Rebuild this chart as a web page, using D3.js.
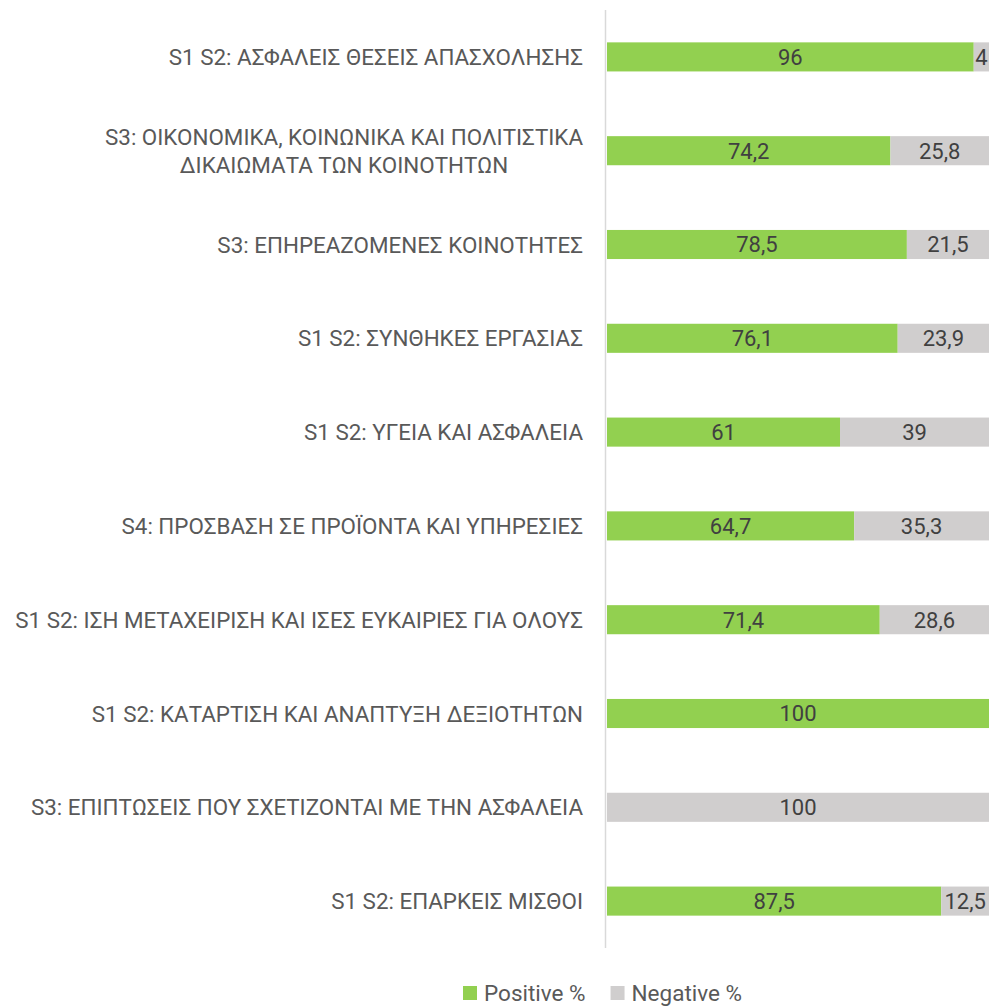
<!DOCTYPE html>
<html>
<head>
<meta charset="utf-8">
<script src="https://cdn.jsdelivr.net/npm/d3@7"></script>
<style>
  body { margin: 0; background: #fff; }
  svg text { font-family: Roboto, "Noto Sans", sans-serif; }
</style>
</head>
<body>
<div id="chart"></div>
<script>
// chart values, top to bottom
var categories = [
    ["S1 S2: ΑΣΦΑΛΕΙΣ ΘΕΣΕΙΣ ΑΠΑΣΧΟΛΗΣΗΣ"],
    ["S3: ΟΙΚΟΝΟΜΙΚΑ, ΚΟΙΝΩΝΙΚΑ ΚΑΙ ΠΟΛΙΤΙΣΤΙΚΑ", "ΔΙΚΑΙΩΜΑΤΑ ΤΩΝ ΚΟΙΝΟΤΗΤΩΝ"],
    ["S3: ΕΠΗΡΕΑΖΟΜΕΝΕΣ ΚΟΙΝΟΤΗΤΕΣ"],
    ["S1 S2: ΣΥΝΘΗΚΕΣ ΕΡΓΑΣΙΑΣ"],
    ["S1 S2: ΥΓΕΙΑ ΚΑΙ ΑΣΦΑΛΕΙΑ"],
    ["S4: ΠΡΟΣΒΑΣΗ ΣΕ ΠΡΟΪΟΝΤΑ ΚΑΙ ΥΠΗΡΕΣΙΕΣ"],
    ["S1 S2: ΙΣΗ ΜΕΤΑΧΕΙΡΙΣΗ ΚΑΙ ΙΣΕΣ ΕΥΚΑΙΡΙΕΣ ΓΙΑ ΟΛΟΥΣ"],
    ["S1 S2: ΚΑΤΑΡΤΙΣΗ ΚΑΙ ΑΝΑΠΤΥΞΗ ΔΕΞΙΟΤΗΤΩΝ"],
    ["S3: ΕΠΙΠΤΩΣΕΙΣ ΠΟΥ ΣΧΕΤΙΖΟΝΤΑΙ ΜΕ ΤΗΝ ΑΣΦΑΛΕΙΑ"],
    ["S1 S2: ΕΠΑΡΚΕΙΣ ΜΙΣΘΟΙ"]
];
var positive = [96, 74.2, 78.5, 76.1, 61, 64.7, 71.4, 100, 0, 87.5];
var negative = [4, 25.8, 21.5, 23.9, 39, 35.3, 28.6, 0, 100, 12.5];
var seriesNames = ["Positive %", "Negative %"];
var seriesColors = ["#92D050", "#D0CECE"];

var width = 991, height = 1007;
var margin = {top: 10, right: 2, bottom: 59, left: 607};

var svg = d3.select("#chart").append("svg")
    .attr("width", width)
    .attr("height", height);

var x = d3.scaleLinear().domain([0, 100]).range([margin.left, width - margin.right]);
var y = d3.scaleBand().domain(d3.range(categories.length))
    .range([margin.top, height - margin.bottom])
    .paddingInner(0.69).paddingOuter(0.345);

var rows = categories.map(function (c, i) {
    return {i: i, pos: positive[i], neg: negative[i]};
});

var fmt = function (v) { return String(v).replace(".", ","); };

// bars
var g = svg.append("g");
rows.forEach(function (d) {
    var parts = [
        {v: d.pos, x0: 0, color: seriesColors[0]},
        {v: d.neg, x0: d.pos, color: seriesColors[1]}
    ];
    parts.forEach(function (p) {
        if (p.v <= 0) return;
        g.append("rect")
            .attr("x", x(p.x0))
            .attr("y", y(d.i))
            .attr("width", x(p.x0 + p.v) - x(p.x0))
            .attr("height", y.bandwidth())
            .attr("fill", p.color);
        g.append("text")
            .attr("x", (x(p.x0) + x(p.x0 + p.v)) / 2)
            .attr("y", y(d.i) + y.bandwidth() / 2)
            .attr("dy", "0.36em")
            .attr("text-anchor", "middle")
            .attr("font-size", 22)
            .attr("fill", "#404040")
            .text(fmt(p.v));
    });
});

// vertical axis line
svg.append("line")
    .attr("x1", margin.left - 1.5).attr("x2", margin.left - 1.5)
    .attr("y1", margin.top).attr("y2", height - margin.bottom)
    .attr("stroke", "#D9D9D9")
    .attr("stroke-width", 1.5);

// category labels
var labelRight = margin.left - 24;
var lineGap = 28;
categories.forEach(function (lines, i) {
    var cy = y(i) + y.bandwidth() / 2;
    var t = svg.append("text")
        .attr("font-size", 22.4)
        .attr("fill", "#595959");
    var spans = lines.map(function (line, k) {
        return t.append("tspan")
            .attr("y", cy + (k - (lines.length - 1) / 2) * lineGap)
            .attr("dy", "0.36em")
            .text(line);
    });
    if (lines.length == 1) {
        t.attr("text-anchor", "end");
        spans[0].attr("x", labelRight);
    } else {
        var maxW = d3.max(spans, function (s) { return s.node().getComputedTextLength(); });
        t.attr("text-anchor", "middle");
        spans.forEach(function (s) { s.attr("x", labelRight - maxW / 2); });
    }
});

// legend
var legend = svg.append("g").attr("transform", "translate(463, 993)");
var lx = 0;
seriesNames.forEach(function (name, i) {
    var item = legend.append("g").attr("transform", "translate(" + lx + ",0)");
    item.append("rect")
        .attr("x", 0).attr("y", -7)
        .attr("width", 14).attr("height", 14)
        .attr("fill", seriesColors[i]);
    var txt = item.append("text")
        .attr("x", 21)
        .attr("dy", "0.36em")
        .attr("font-size", 22.5)
        .attr("fill", "#595959")
        .text(name);
    lx += 21 + txt.node().getComputedTextLength() + 25;
});
</script>
</body>
</html>
